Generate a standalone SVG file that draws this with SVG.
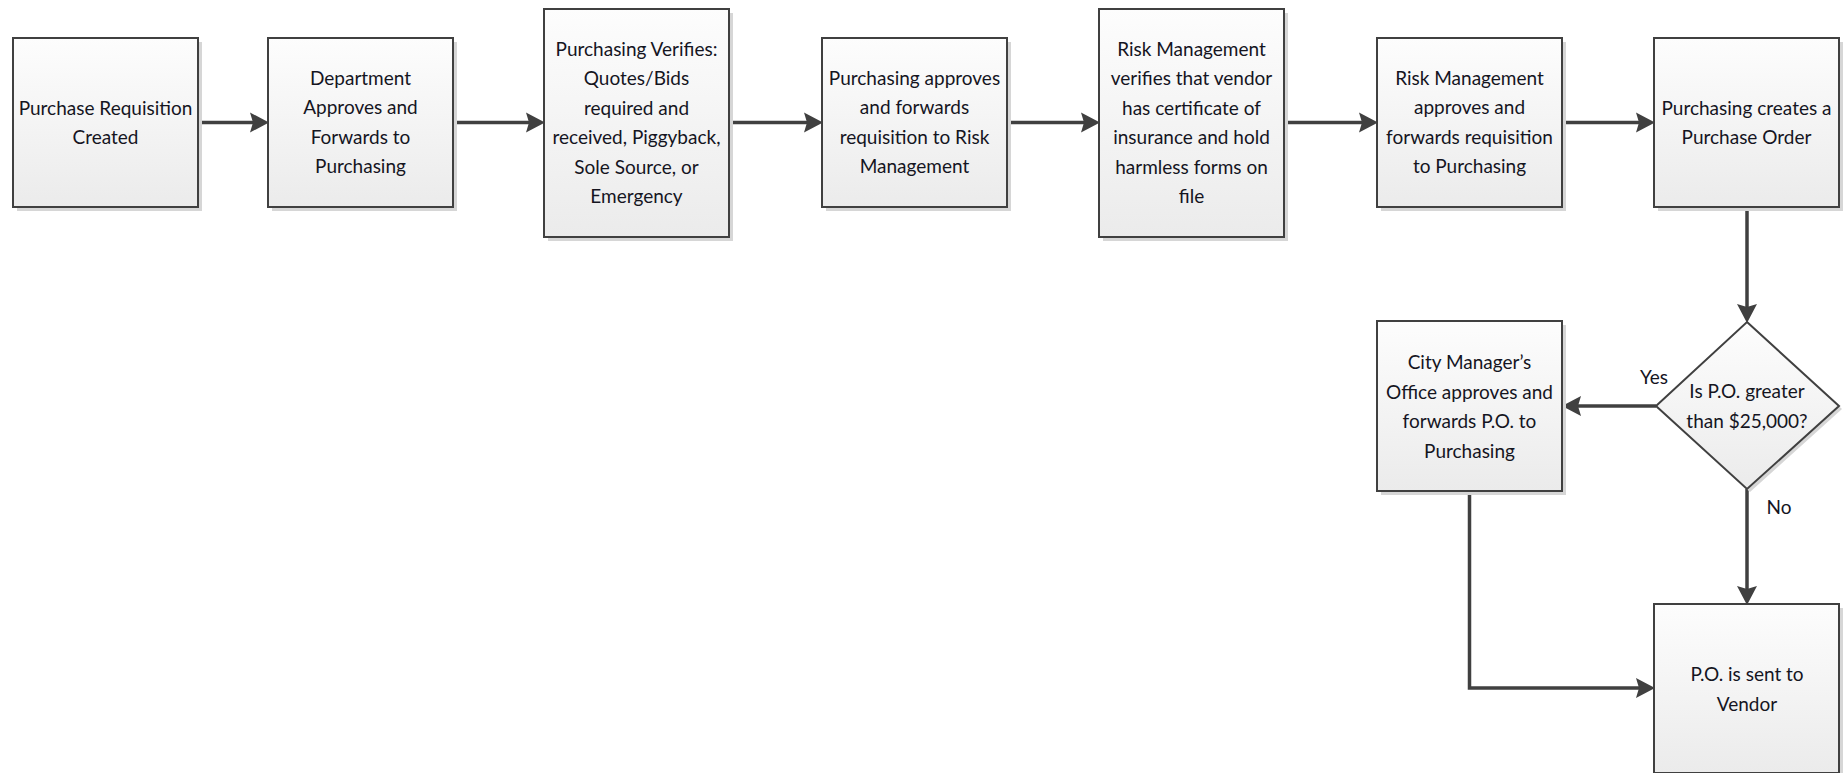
<svg xmlns="http://www.w3.org/2000/svg" width="1844" height="773" viewBox="0 0 1844 773">
<defs>
<linearGradient id="g" x1="0" y1="0" x2="0" y2="1">
<stop offset="0" stop-color="#fdfdfd"/>
<stop offset="1" stop-color="#ebebeb"/>
</linearGradient>
<marker id="ah" markerUnits="userSpaceOnUse" markerWidth="20" markerHeight="22" refX="10" refY="11" orient="auto" viewBox="0 0 20 22">
<path d="M0,1 L19,11 L0,21 L3,11 Z" fill="#404040"/>
</marker>
</defs>
<style>
.bx{fill:url(#g);stroke:#404040;stroke-width:2}
.sh{fill:#d6d6d6}
.t{font-family:Lato,"Liberation Sans",sans-serif;font-size:19px;fill:#15151f;text-anchor:middle}
.c{fill:none;stroke:#404040;stroke-width:3.5;marker-end:url(#ah)}
</style>
<rect width="1844" height="773" fill="#fff"/>
<g id="connectors">
<line class="c" x1="198" y1="122.5" x2="260" y2="122.5"/>
<line class="c" x1="452" y1="122.5" x2="536" y2="122.5"/>
<line class="c" x1="729" y1="122.5" x2="814" y2="122.5"/>
<line class="c" x1="1008" y1="122.5" x2="1091" y2="122.5"/>
<line class="c" x1="1285" y1="122.5" x2="1369" y2="122.5"/>
<line class="c" x1="1562" y1="122.5" x2="1646" y2="122.5"/>
<line class="c" x1="1747" y1="207" x2="1747" y2="314"/>
<line class="c" x1="1656" y1="406" x2="1571" y2="406"/>
<line class="c" x1="1747" y1="489" x2="1747" y2="596"/>
<polyline class="c" points="1469.5,491 1469.5,688 1646,688"/>
<text class="t" x="1654" y="384">Yes</text>
<text class="t" x="1779" y="514">No</text>
</g>
<g id="n1">
<rect class="sh" x="17" y="42" width="185" height="169"/>
<rect class="bx" x="13" y="38" width="185" height="169"/>
<text class="t" x="105.5" y="114.5">Purchase Requisition</text>
<text class="t" x="105.5" y="144">Created</text>
</g>
<g id="n2">
<rect class="sh" x="272" y="42" width="185" height="169"/>
<rect class="bx" x="268" y="38" width="185" height="169"/>
<text class="t" x="360.5" y="84.5">Department</text>
<text class="t" x="360.5" y="114">Approves and</text>
<text class="t" x="360.5" y="143.5">Forwards to</text>
<text class="t" x="360.5" y="173">Purchasing</text>
</g>
<g id="n3">
<rect class="sh" x="548" y="13" width="185" height="228"/>
<rect class="bx" x="544" y="9" width="185" height="228"/>
<text class="t" x="636.5" y="55.5">Purchasing Verifies:</text>
<text class="t" x="636.5" y="85">Quotes/Bids</text>
<text class="t" x="636.5" y="114.5">required and</text>
<text class="t" x="636.5" y="144">received, Piggyback,</text>
<text class="t" x="636.5" y="173.5">Sole Source, or</text>
<text class="t" x="636.5" y="203">Emergency</text>
</g>
<g id="n4">
<rect class="sh" x="826" y="42" width="185" height="169"/>
<rect class="bx" x="822" y="38" width="185" height="169"/>
<text class="t" x="914.5" y="84.5">Purchasing approves</text>
<text class="t" x="914.5" y="114">and forwards</text>
<text class="t" x="914.5" y="143.5">requisition to Risk</text>
<text class="t" x="914.5" y="173">Management</text>
</g>
<g id="n5">
<rect class="sh" x="1103" y="13" width="185" height="228"/>
<rect class="bx" x="1099" y="9" width="185" height="228"/>
<text class="t" x="1191.5" y="55.5">Risk Management</text>
<text class="t" x="1191.5" y="85">verifies that vendor</text>
<text class="t" x="1191.5" y="114.5">has certificate of</text>
<text class="t" x="1191.5" y="144">insurance and hold</text>
<text class="t" x="1191.5" y="173.5">harmless forms on</text>
<text class="t" x="1191.5" y="203">file</text>
</g>
<g id="n6">
<rect class="sh" x="1381" y="42" width="185" height="169"/>
<rect class="bx" x="1377" y="38" width="185" height="169"/>
<text class="t" x="1469.5" y="84.5">Risk Management</text>
<text class="t" x="1469.5" y="114">approves and</text>
<text class="t" x="1469.5" y="143.5">forwards requisition</text>
<text class="t" x="1469.5" y="173">to Purchasing</text>
</g>
<g id="n7">
<rect class="sh" x="1658" y="42" width="185" height="169"/>
<rect class="bx" x="1654" y="38" width="185" height="169"/>
<text class="t" x="1746.5" y="114.5">Purchasing creates a</text>
<text class="t" x="1746.5" y="144">Purchase Order</text>
</g>
<g id="d1">
<polygon class="sh" points="1750,325 1842,409 1750,492 1659,409"/>
<polygon class="bx" points="1747,322 1839,406 1747,489 1656,406"/>
<text class="t" x="1747" y="398">Is P.O. greater</text>
<text class="t" x="1747" y="427.5">than $25,000?</text>
</g>
<g id="n8">
<rect class="sh" x="1381" y="325" width="185" height="170"/>
<rect class="bx" x="1377" y="321" width="185" height="170"/>
<text class="t" x="1469.5" y="369">City Manager’s</text>
<text class="t" x="1469.5" y="398.5">Office approves and</text>
<text class="t" x="1469.5" y="428">forwards P.O. to</text>
<text class="t" x="1469.5" y="457.5">Purchasing</text>
</g>
<g id="n9">
<rect class="sh" x="1658" y="608" width="185" height="169"/>
<rect class="bx" x="1654" y="604" width="185" height="169"/>
<text class="t" x="1747" y="681">P.O. is sent to</text>
<text class="t" x="1747" y="710.5">Vendor</text>
</g>
</svg>
